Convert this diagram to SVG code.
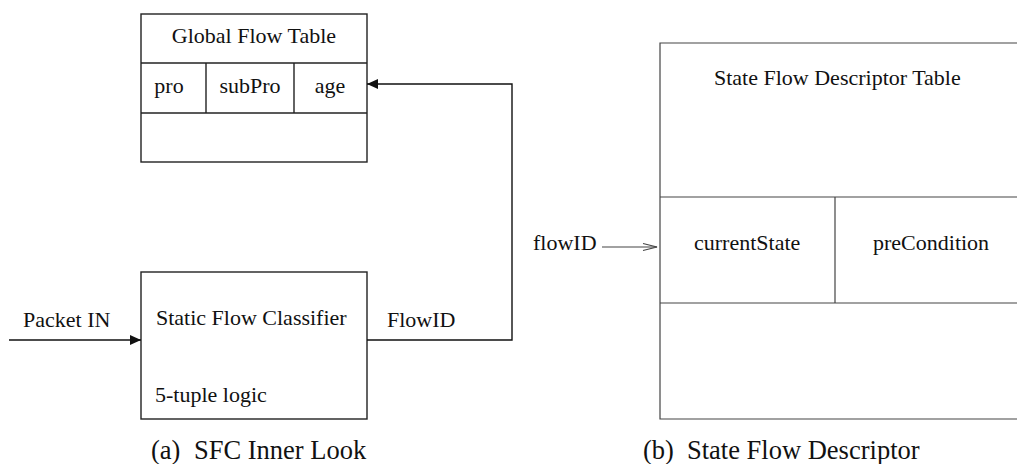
<svg xmlns="http://www.w3.org/2000/svg" width="1017" height="464" viewBox="0 0 1017 464">
  <style>
    text { font-family: "Liberation Serif", "Times New Roman", serif; fill: #111; }
    .lbl { font-size: 22px; }
    .mid { text-anchor: middle; }
    .cap { font-size: 26.5px; }
    .box { fill: #fff; stroke: #222; stroke-width: 1.4; }
    .ln { fill: none; stroke: #222; stroke-width: 1.4; }
    .wire { fill: none; stroke: #111; stroke-width: 1.4; }
    .thin { fill: none; stroke: #444; stroke-width: 1.2; }
  </style>
  <defs>
    <marker id="solid" markerWidth="12" markerHeight="10" refX="11" refY="5" orient="auto" markerUnits="userSpaceOnUse">
      <path d="M0,0 L11,5 L0,10 Z" fill="#111"/>
    </marker>
    <marker id="open" markerWidth="16" markerHeight="10" refX="15" refY="5" orient="auto" markerUnits="userSpaceOnUse">
      <path d="M1,1.5 L15,5 L1,8.5" fill="none" stroke="#444" stroke-width="1.2"/>
    </marker>
  </defs>

  <rect width="1017" height="464" fill="#fff"/>

  <!-- global flow table -->
  <g id="global-flow-table">
    <rect class="box" x="141" y="14" width="226" height="148"/>
    <line class="ln" x1="141" y1="63" x2="367" y2="63"/>
    <line class="ln" x1="141" y1="113" x2="367" y2="113"/>
    <line class="ln" x1="206" y1="63" x2="206" y2="113"/>
    <line class="ln" x1="294" y1="63" x2="294" y2="113"/>
    <text class="lbl mid" x="254" y="43">Global Flow Table</text>
    <text class="lbl mid" x="169" y="93">pro</text>
    <text class="lbl mid" x="250" y="93">subPro</text>
    <text class="lbl mid" x="330" y="93">age</text>
  </g>

  <!-- static flow classifier -->
  <g id="static-flow-classifier">
    <rect class="box" x="141" y="272" width="226" height="147"/>
    <text class="lbl" x="156" y="325">Static Flow Classifier</text>
    <text class="lbl" x="155" y="402">5-tuple logic</text>
  </g>

  <!-- state flow descriptor table (runs past the right edge) -->
  <g id="state-flow-descriptor-table">
    <rect x="660" y="43" width="370" height="376" fill="#fff"/>
    <path class="thin" d="M1017,43 H660 V419 H1017"/>
    <line class="thin" x1="660" y1="197" x2="1017" y2="197"/>
    <line class="thin" x1="660" y1="303" x2="1017" y2="303"/>
    <line class="thin" x1="835" y1="197" x2="835" y2="303"/>
    <text class="lbl" x="714" y="85">State Flow Descriptor Table</text>
    <text class="lbl" x="694" y="250">currentState</text>
    <text class="lbl" x="873" y="250">preCondition</text>
  </g>

  <!-- connectors -->
  <g id="connectors">
    <line class="wire" x1="9" y1="340" x2="141" y2="340" marker-end="url(#solid)"/>
    <path class="wire" d="M367,340 H512 V84 H367" marker-end="url(#solid)"/>
    <line class="thin" x1="602" y1="247" x2="657" y2="247" marker-end="url(#open)"/>
  </g>

  <!-- connector labels -->
  <g id="connector-labels">
    <text class="lbl" x="23" y="327">Packet IN</text>
    <text class="lbl" x="387" y="327">FlowID</text>
    <text class="lbl" x="533" y="250">flowID</text>
  </g>

  <!-- sub-figure captions -->
  <g id="captions">
    <text class="cap" x="151" y="459">(a)<tspan x="194">SFC Inner Look</tspan></text>
    <text class="cap" x="643" y="459">(b)<tspan x="687">State Flow Descriptor</tspan></text>
  </g>
</svg>
